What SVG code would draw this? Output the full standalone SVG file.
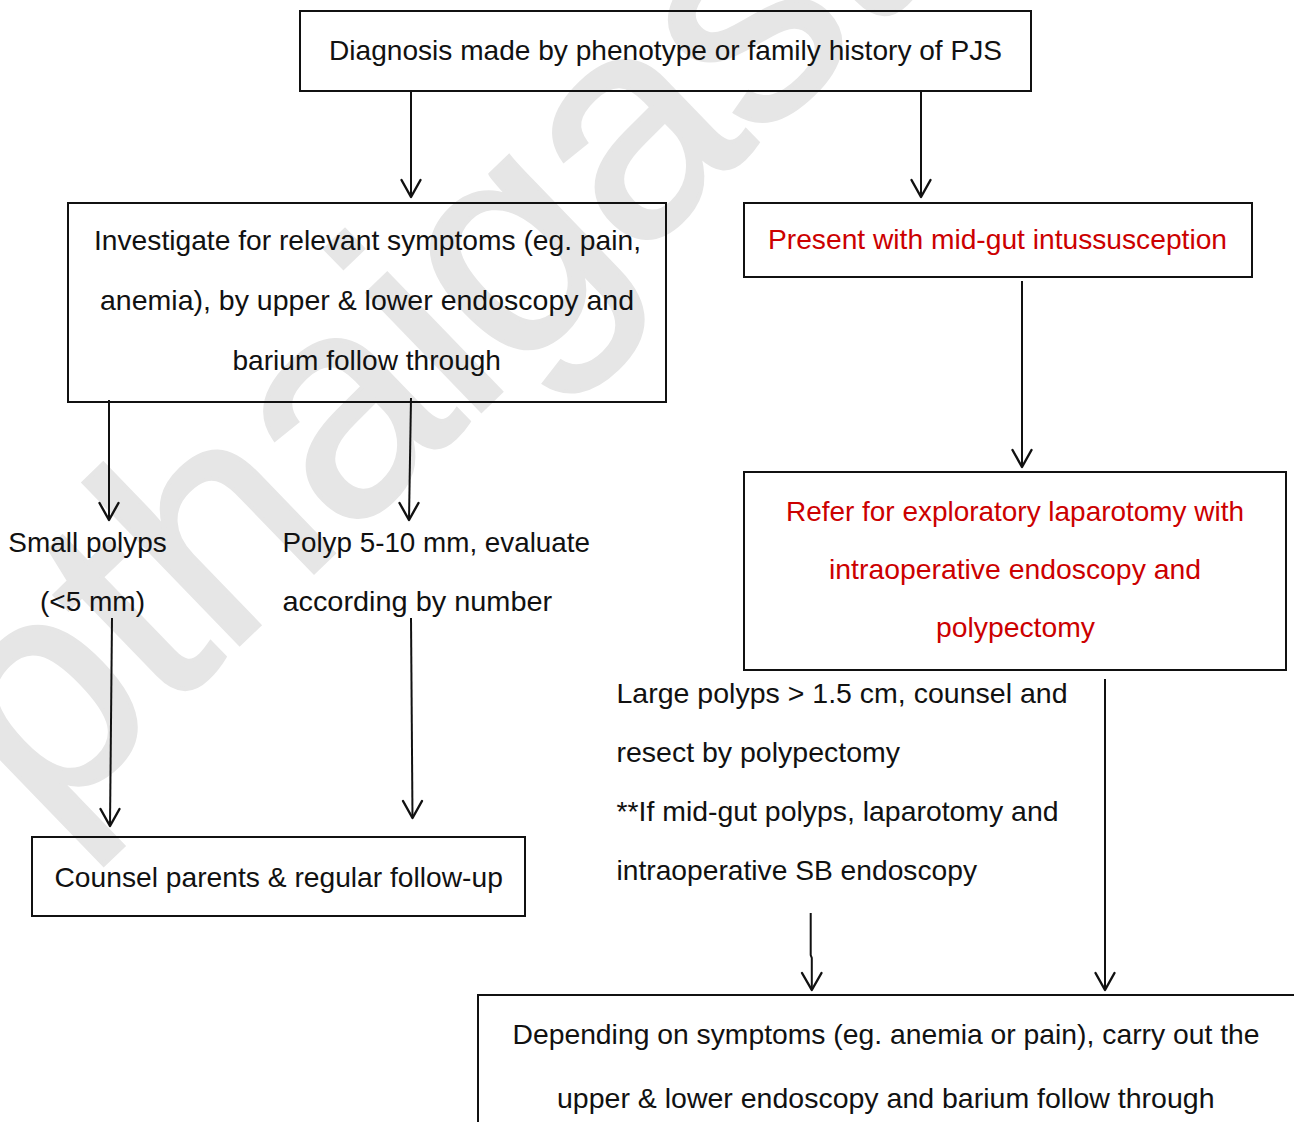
<svg xmlns="http://www.w3.org/2000/svg" width="1294" height="1122" viewBox="0 0 1294 1122">
<style>
.bg{fill:#ffffff}
.wm{font-family:"Liberation Sans",Arial,sans-serif;font-size:310px;letter-spacing:-4px;fill:#e6e6e6;stroke:#e6e6e6;stroke-width:4}
.box{fill:none;stroke:#111111;stroke-width:2}
.t{font-family:"Liberation Sans",Arial,sans-serif;font-size:28px;fill:#111111}
.r{fill:#cc0000}
.c{stroke:#111111;stroke-width:2;fill:none}
.ah{stroke:#111111;stroke-width:2.4;fill:none;stroke-linecap:round;stroke-linejoin:round}
</style>
<rect class="bg" x="0" y="0" width="1294" height="1122"/>
<text class="wm" transform="translate(44,833) rotate(-44)">pthaigastro</text>

<g id="connectors">
  <path class="c" d="M411,91 L411,197"/>
  <path class="ah" d="M401.5,180 L411,197 L420.5,180"/>
  <path class="c" d="M921,91 L921,197"/>
  <path class="ah" d="M911.5,180 L921,197 L930.5,180"/>
  <path class="c" d="M1022,281 L1022,467"/>
  <path class="ah" d="M1012.5,450 L1022,467 L1031.5,450"/>
  <path class="c" d="M109,400 L109,520"/>
  <path class="ah" d="M99.5,503 L109,520 L118.5,503"/>
  <path class="c" d="M411,398 L409,520"/>
  <path class="ah" d="M399.5,503 L409,520 L418.5,503"/>
  <path class="c" d="M112,618 L110,826"/>
  <path class="ah" d="M100.5,809 L110,826 L119.5,809"/>
  <path class="c" d="M411,618 L412.5,818"/>
  <path class="ah" d="M403,801 L412.5,818 L422,801"/>
  <path class="c" d="M810.7,913 L810.7,955 L811.8,958 L811.8,990"/>
  <path class="ah" d="M802,973 L811.8,990 L821.5,973"/>
  <path class="c" d="M1105,679 L1105,990"/>
  <path class="ah" d="M1095.5,973 L1105,990 L1114.5,973"/>
</g>

<g id="diagnosis">
  <rect class="box" x="300" y="11" width="731" height="80"/>
  <text class="t" x="329" y="60" textLength="673" lengthAdjust="spacingAndGlyphs">Diagnosis made by phenotype or family history of PJS</text>
</g>

<g id="investigate">
  <rect class="box" x="68" y="203" width="598" height="199"/>
  <text class="t" x="94" y="250" textLength="547" lengthAdjust="spacingAndGlyphs">Investigate for relevant symptoms (eg. pain,</text>
  <text class="t" x="100" y="310" textLength="534" lengthAdjust="spacingAndGlyphs">anemia), by upper &amp; lower endoscopy and</text>
  <text class="t" x="232.5" y="370" textLength="268.5" lengthAdjust="spacingAndGlyphs">barium follow through</text>
</g>

<g id="intussusception">
  <rect class="box" x="744" y="203" width="508" height="74"/>
  <text class="t r" x="768" y="249" textLength="459" lengthAdjust="spacingAndGlyphs">Present with mid-gut intussusception</text>
</g>

<g id="laparotomy">
  <rect class="box" x="744" y="472" width="542" height="198"/>
  <text class="t r" x="786" y="521" textLength="458" lengthAdjust="spacingAndGlyphs">Refer for exploratory laparotomy with</text>
  <text class="t r" x="829" y="579" textLength="372" lengthAdjust="spacingAndGlyphs">intraoperative endoscopy and</text>
  <text class="t r" x="936" y="637" textLength="159" lengthAdjust="spacingAndGlyphs">polypectomy</text>
</g>

<g id="small-polyps">
  <text class="t" x="8.3" y="552" textLength="158.4" lengthAdjust="spacingAndGlyphs">Small polyps</text>
  <text class="t" x="40" y="611" textLength="105" lengthAdjust="spacingAndGlyphs">(&lt;5 mm)</text>
</g>

<g id="medium-polyps">
  <text class="t" x="282.4" y="552" textLength="307.6" lengthAdjust="spacingAndGlyphs">Polyp 5-10 mm, evaluate</text>
  <text class="t" x="282.4" y="611" textLength="269.8" lengthAdjust="spacingAndGlyphs">according by number</text>
</g>

<g id="counsel">
  <rect class="box" x="32" y="837" width="493" height="79"/>
  <text class="t" x="54.5" y="887" textLength="448.4" lengthAdjust="spacingAndGlyphs">Counsel parents &amp; regular follow-up</text>
</g>

<g id="large-polyps">
  <text class="t" x="616.5" y="703" textLength="451" lengthAdjust="spacingAndGlyphs">Large polyps &gt; 1.5 cm, counsel and</text>
  <text class="t" x="616.5" y="762" textLength="283.5" lengthAdjust="spacingAndGlyphs">resect by polypectomy</text>
  <text class="t" x="616.5" y="821" textLength="442" lengthAdjust="spacingAndGlyphs">**If mid-gut polyps, laparotomy and</text>
  <text class="t" x="616.5" y="880" textLength="360.5" lengthAdjust="spacingAndGlyphs">intraoperative SB endoscopy</text>
</g>

<g id="depending">
  <rect class="box" x="478" y="995" width="830" height="200"/>
  <text class="t" x="512.5" y="1044" textLength="747" lengthAdjust="spacingAndGlyphs">Depending on symptoms (eg. anemia or pain), carry out the</text>
  <text class="t" x="557" y="1108" textLength="657.5" lengthAdjust="spacingAndGlyphs">upper &amp; lower endoscopy and barium follow through</text>
</g>
</svg>
